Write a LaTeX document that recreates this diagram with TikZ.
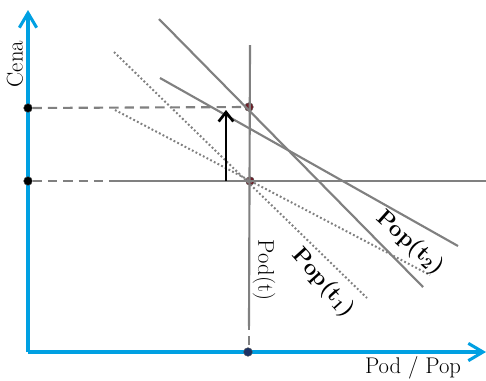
\documentclass[tikz,border=0pt]{standalone}
\usepackage{xcolor}
\usetikzlibrary{arrows.meta,positioning,calc}
\definecolor{axisblue}{RGB}{0,160,226}
\definecolor{linegray}{RGB}{128,128,128}
\definecolor{dotred}{RGB}{110,30,40}
\definecolor{dotblue}{RGB}{30,50,100}
\begin{document}
\begin{tikzpicture}[x=0.75pt, y=-0.75pt,
    axis/.style={draw=axisblue, line width=2.3pt, -{Straight Barb[length=11pt, width=13pt, line width=2.3pt]}},
    gline/.style={draw=linegray, line width=1.6pt},
    dline/.style={draw=linegray, line width=1.6pt, dash pattern=on 7pt off 4.5pt},
    pline/.style={draw=linegray, line width=1.5pt, dash pattern=on 1.4pt off 1.7pt},
    dot/.style={circle, draw=black!70, line width=0.3pt, inner sep=0pt, minimum size=6.5pt},
    lbl/.style={font=\fontsize{17}{20}\selectfont, inner sep=1pt}
  ]
    \useasboundingbox (0,0) rectangle (486,380);
    % axes
    \coordinate (O) at (28,352);
    \coordinate (ytop) at (28,10);
    \coordinate (xend) at (486,352);
    \draw[axis] (O) -- (ytop);
    \draw[axis] (O) -- (xend);
    % points
    \node[dot, fill=black] (c2) at (28,108) {};
    \node[dot, fill=black] (c1) at (28,181) {};
    \node[dot, fill=dotblue] (q0) at (248,352) {};
    \node[dot, fill=dotred] (e2) at (249,107) {};
    \node[dot, fill=dotred] (e1) at (250,181) {};
    % dashed guides
    \coordinate (h1) at (113,181);
    \coordinate (hend) at (486,181);
    \draw[dline] (c2) -- (e2);
    \draw[dline] (c1) -- (h1);
    \draw[gline] (h1) -- (hend);
    % supply line Pod(t)
    \coordinate (ptop) at (250,45);
    \coordinate (pbot) at (249,326);
    \draw[gline] (ptop) -- (pbot);
    \draw[gline] (pbot) -- ++(0,4) ++(0,6) -- ++(0,9);
    % demand lines
    \coordinate (a1) at (114,52);  \coordinate (a2) at (367,298);
    \coordinate (b1) at (115,110); \coordinate (b2) at (430,275);
    \coordinate (s1) at (159,19);  \coordinate (s2) at (423,287);
    \coordinate (r1) at (160,78);  \coordinate (r2) at (458,246);
    \draw[pline] (a1) -- (a2);
    \draw[pline] (b1) -- (b2);
    \draw[gline] (s1) -- (s2);
    \draw[gline] (r1) -- (r2);
    % price shift
    \coordinate (u1) at (226,181);
    \coordinate (u2) at (226,110);
    \draw[line width=2pt, -{Straight Barb[length=7pt, width=11pt, line width=2pt]}] (u1) -- (u2);
    % labels
    \node[lbl, rotate=90] (cena) at (15,64) {Cena};
    \node[lbl] (podpop) at (413,368) {Pod / Pop};
    \node[lbl, rotate=-90] (podt) at (264,270) {Pod(t)};
    \node[lbl, rotate=-48] (pop1) at (323,283) {\textbf{Pop(t\textsubscript{1})}};
    \node[lbl, rotate=-42] (pop2) at (410,243) {\textbf{Pop(t\textsubscript{2})}};
  \end{tikzpicture}
\end{document}
